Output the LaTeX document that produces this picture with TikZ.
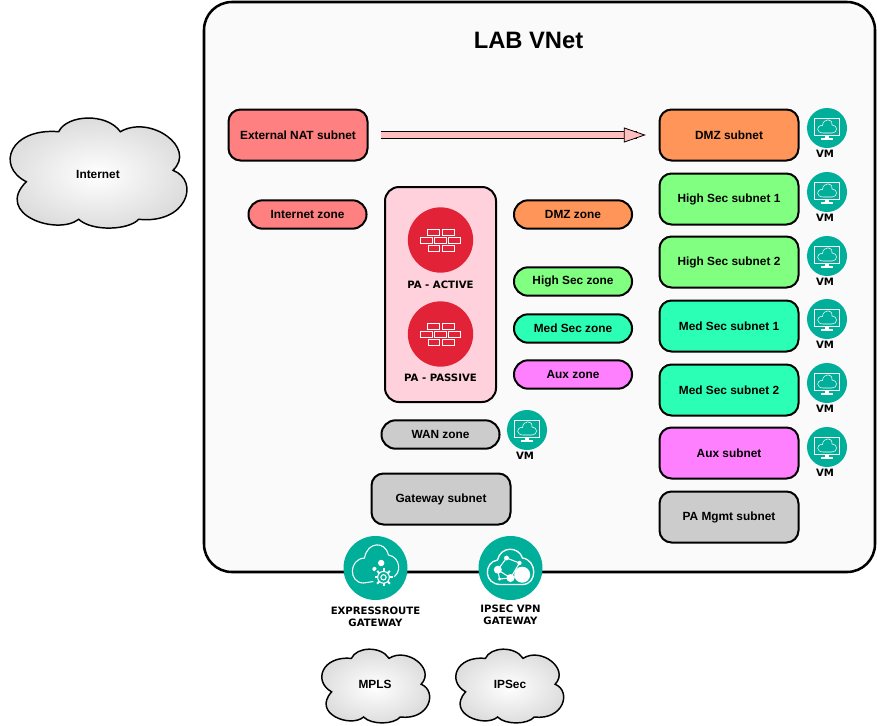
\documentclass[tikz,border=0pt]{standalone}
\usepackage{fontspec}
\setmainfont{Liberation Sans}
\newfontfamily\iconfont{DejaVu Sans}
\usetikzlibrary{arrows.meta}

\definecolor{natred}{HTML}{FF8080}
\definecolor{dmzorange}{HTML}{FF9558}
\definecolor{highgreen}{HTML}{80FF80}
\definecolor{medgreen}{HTML}{2AFFB5}
\definecolor{auxpink}{HTML}{FF80FF}
\definecolor{wangray}{HTML}{CCCCCC}
\definecolor{pabox}{HTML}{FFD1DC}
\definecolor{vnetfill}{HTML}{FAFAFA}
\definecolor{pared}{HTML}{E12237}
\definecolor{iconteal}{HTML}{00AF9A}
\definecolor{arrowpink}{HTML}{FFBFBF}

\tikzset{
  subnet/.style={draw, line width=1.5pt, rounded corners=9pt, minimum width=104.25pt, minimum height=38.25pt, inner sep=0pt, font=\bfseries\fontsize{8.9}{11}\selectfont},
  zone/.style={draw, line width=1.5pt, rounded corners=10.5pt, minimum width=88.5pt, minimum height=21.25pt, inner sep=0pt, font=\bfseries\fontsize{8.9}{11}\selectfont},
  cloudtext/.style={inner sep=0pt, font=\bfseries\fontsize{8.9}{11}\selectfont},
  iconlabel/.style={inner sep=0pt, align=center, font=\iconfont\bfseries\fontsize{7.6}{9}\selectfont},
  arrowedge/.style={draw=black, line width=5.4pt, shorten <=9pt, shorten >=16pt},
  blockarrow/.style={draw=arrowpink, line width=4.2pt, shorten <=9.6pt, shorten >=9.5pt, -{Triangle[length=16.5pt,width=11.25pt,fill=arrowpink,color=black,line width=.6pt]}},
  netcloud/.pic={
    \draw[line width=1.1pt, inner color=white, outer color=black!15]
      (-72.7,8.7) .. controls (-103.7,-7) and (-88.7,-45.3) .. (-40.3,-41.3)
      .. controls (-32,-58.7) and (8,-60.3) .. (21.3,-41.3)
      .. controls (51.3,-58.7) and (98,-25.3) .. (74,-2.7)
      .. controls (101.3,8) and (88,51.3) .. (39.7,46.3)
      .. controls (29.7,57.3) and (-7,58.7) .. (-20.3,46.3)
      .. controls (-42,63) and (-105.3,41.3) .. (-72.7,8.7) -- cycle;
  },
  vmicon/.pic={
    \fill[iconteal] (0,0) circle (15pt);
    \draw[white, line width=.6pt] (-12.7,-10) rectangle (12.7,7);
    \draw[white, line width=.4pt] (-4,5) .. controls (-11,5) and (-11,-3) .. (-4.5,-2.5) .. controls (-4,-10) and (6,-10) .. (5,-3) .. controls (11,-3) and (11,5) .. (5,5) -- cycle;
    \fill[white] (-2,7) rectangle (2,10);
    \fill[white] (-6,10) rectangle (6,11.5);
  },
  paicon/.pic={
    \fill[pared] (0,0) circle (24.5pt);
    \draw[white, line width=.75pt] (-13.3,-10.3) rectangle (-1.3,-5) (2,-10.3) rectangle (14,-5);
    \draw[white, line width=.75pt] (-20,-2.3) rectangle (-8.3,3.3) (-6.3,-2.3) rectangle (5.7,3.3) (8.3,-2.3) rectangle (20,3.3);
    \draw[white, line width=.75pt] (-12.3,5.7) rectangle (-0.7,11) (1.7,5.7) rectangle (13.7,11);
  },
  ericon/.pic={
    \fill[iconteal] (0,0) circle (24pt);
    \draw[white, line width=.8pt] (-2,13.5) -- (-12,15) .. controls (-27,15) and (-27,-9) .. (-11,-10)
      .. controls (-8,-27) and (10,-27) .. (13,-13) .. controls (25,-11) and (27,6) .. (16,10);
    \fill[white] (5.7,-5) circle (2.4pt);
    \fill[white] (-1,1) circle (1.6pt);
    \fill[iconteal] (8,9.3) circle (8pt);
    \draw[white, line width=.8pt] (8,9.3) circle (4.4pt) (8,9.3) circle (2pt);
    \foreach \a in {0,45,...,315}
      \draw[white, line width=1.5pt] (8,9.3) ++(\a:6) -- ++(\a:3);
  },
  vpnicon/.pic={
    \fill[iconteal] (0,0) circle (24pt);
    \draw[white, line width=1pt] (-10,16.5) .. controls (-27,16.5) and (-27,-6) .. (-13,-8)
      .. controls (-10,-22) and (8,-22) .. (12,-10) .. controls (27,-8) and (27,16.5) .. (12,16.5) -- cycle;
    \draw[white, line width=.8pt] (-12.7,1.7) -- (-4,-10) -- (9,-5) -- (0,10) -- (-12.7,1.7) -- (-11,11) -- (0,10) -- (11.7,6.7);
    \fill[white] (11.7,6.7) circle (6pt) (0,10) circle (3pt) (-12.7,1.7) circle (3pt) (-4,-10) circle (1.8pt) (9,-5) circle (1.6pt) (-11,11) circle (1.3pt);
  }
}

\begin{document}
\begin{tikzpicture}[x=0.75pt,y=-0.75pt]
\useasboundingbox (0,0) rectangle (877,725);

\draw[line width=1.9pt, fill=vnetfill, rounded corners=21pt] (204,2) rectangle (875,572);
\node[inner sep=0pt, font=\bfseries\fontsize{17.8}{22}\selectfont] (vnettitle) at (528.5,40) {LAB VNet};

\pic at (99,173) {netcloud};
\node[cloudtext] (internet) at (98,174) {Internet};
\pic[xscale=.61,yscale=.67] at (376,686) {netcloud};
\node[cloudtext] (mpls) at (375,684) {MPLS};
\pic[xscale=.61,yscale=.67] at (510,686) {netcloud};
\node[cloudtext] (ipsec) at (510,684) {IPSec};

\node[subnet, fill=natred] (natsubnet) at (298,135) {External NAT subnet};
\node[subnet, fill=dmzorange] (dmzsubnet) at (729,135) {DMZ subnet};
\node[subnet, fill=highgreen] (highsubneta) at (729,199) {High Sec subnet 1};
\node[subnet, fill=highgreen] (highsubnetb) at (729,262) {High Sec subnet 2};
\node[subnet, fill=medgreen] (medsubneta) at (729,326) {Med Sec subnet 1};
\node[subnet, fill=medgreen] (medsubnetb) at (729,390) {Med Sec subnet 2};
\node[subnet, fill=auxpink] (auxsubnet) at (729,453) {Aux subnet};
\node[subnet, fill=wangray] (mgmtsubnet) at (729,517) {PA Mgmt subnet};
\node[subnet, fill=wangray] (gwsubnet) at (441,499) {Gateway subnet};

\node[zone, fill=natred] (internetzone) at (307.5,214.5) {Internet zone};
\node[zone, fill=dmzorange] (dmzzone) at (573,214.5) {DMZ zone};
\node[zone, fill=highgreen] (highzone) at (573,281.5) {High Sec zone};
\node[zone, fill=medgreen] (medzone) at (573,328.5) {Med Sec zone};
\node[zone, fill=auxpink] (auxzone) at (573,374.5) {Aux zone};
\node[zone, fill=wangray] (wanzone) at (440.5,434.5) {WAN zone};

\draw[line width=1.5pt, fill=pabox, rounded corners=10.5pt] (385,187) rectangle (496,402);
\pic at (440.5,240) {paicon};
\node[iconlabel] (paactive) at (440.5,285) {PA - ACTIVE};
\pic at (440.5,334) {paicon};
\node[iconlabel] (papassive) at (440.5,378) {PA - PASSIVE};

\draw[arrowedge] (natsubnet) -- (dmzsubnet);
\draw[blockarrow] (natsubnet) -- (dmzsubnet);

\pic at (827,128) {vmicon};
\node[iconlabel] (vmdmz) at (825,154) {VM};
\pic at (827,192) {vmicon};
\node[iconlabel] (vmhigha) at (825,218) {VM};
\pic at (827,256) {vmicon};
\node[iconlabel] (vmhighb) at (825,282) {VM};
\pic at (827,319) {vmicon};
\node[iconlabel] (vmmeda) at (825,345) {VM};
\pic at (827,383) {vmicon};
\node[iconlabel] (vmmedb) at (825,409) {VM};
\pic at (827,447) {vmicon};
\node[iconlabel] (vmaux) at (825,473) {VM};
\pic at (527,430) {vmicon};
\node[iconlabel] (vmwan) at (525,456) {VM};

\pic at (375.5,568) {ericon};
\node[iconlabel] (ergateway) at (375.5,617) {EXPRESSROUTE\\GATEWAY};
\pic at (510.5,568) {vpnicon};
\node[iconlabel] (vpngateway) at (510.5,615) {IPSEC VPN\\GATEWAY};
\end{tikzpicture}
\end{document}
